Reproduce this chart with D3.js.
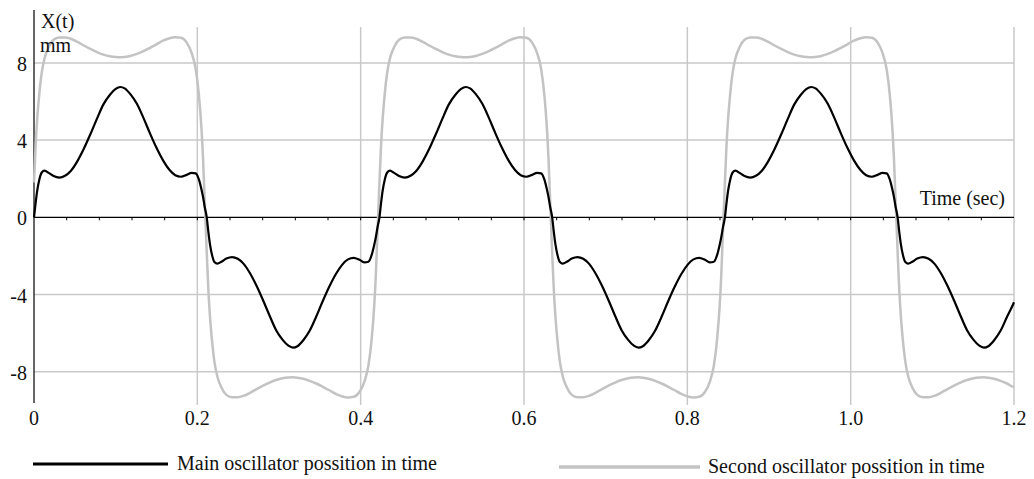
<!DOCTYPE html>
<html>
<head>
<meta charset="utf-8">
<script src="https://cdn.jsdelivr.net/npm/d3@7"></script>
<style>
  html, body { margin: 0; padding: 0; background: #fff; }
  svg { display: block; }
  text { font-family: "Liberation Serif", "Times New Roman", serif; fill: #111; }
</style>
</head>
<body>
<svg id="chart" width="1034" height="479"></svg>
<script>
// ---- data ----
const time = [
  0.0000, 0.0020, 0.0040, 0.0065, 0.0095, 0.0130, 0.0180, 0.0240, 0.0310, 0.0380, 0.0450, 0.0530,
  0.0610, 0.0690, 0.0770, 0.0850, 0.0930, 0.1000, 0.1056, 0.1110, 0.1180, 0.1260, 0.1340, 0.1420,
  0.1500, 0.1580, 0.1660, 0.1730, 0.1800, 0.1870, 0.1930, 0.1980, 0.2020, 0.2050, 0.2070, 0.2090,
  0.2115, 0.2135, 0.2155, 0.2180, 0.2210, 0.2245, 0.2295, 0.2355, 0.2425, 0.2495, 0.2565, 0.2645,
  0.2725, 0.2805, 0.2885, 0.2965, 0.3045, 0.3115, 0.3171, 0.3225, 0.3295, 0.3375, 0.3455, 0.3535,
  0.3615, 0.3695, 0.3775, 0.3845, 0.3915, 0.3985, 0.4045, 0.4095, 0.4135, 0.4165, 0.4185, 0.4205,
  0.4230, 0.4250, 0.4270, 0.4295, 0.4325, 0.4360, 0.4410, 0.4470, 0.4540, 0.4610, 0.4680, 0.4760,
  0.4840, 0.4920, 0.5000, 0.5080, 0.5160, 0.5230, 0.5286, 0.5340, 0.5410, 0.5490, 0.5570, 0.5650,
  0.5730, 0.5810, 0.5890, 0.5960, 0.6030, 0.6100, 0.6160, 0.6210, 0.6250, 0.6280, 0.6300, 0.6320,
  0.6345, 0.6365, 0.6385, 0.6410, 0.6440, 0.6475, 0.6525, 0.6585, 0.6655, 0.6725, 0.6795, 0.6875,
  0.6955, 0.7035, 0.7115, 0.7195, 0.7275, 0.7345, 0.7401, 0.7455, 0.7525, 0.7605, 0.7685, 0.7765,
  0.7845, 0.7925, 0.8005, 0.8075, 0.8145, 0.8215, 0.8275, 0.8325, 0.8365, 0.8395, 0.8415, 0.8435,
  0.8460, 0.8480, 0.8500, 0.8525, 0.8555, 0.8590, 0.8640, 0.8700, 0.8770, 0.8840, 0.8910, 0.8990,
  0.9070, 0.9150, 0.9230, 0.9310, 0.9390, 0.9460, 0.9516, 0.9570, 0.9640, 0.9720, 0.9800, 0.9880,
  0.9960, 1.0040, 1.0120, 1.0190, 1.0260, 1.0330, 1.0390, 1.0440, 1.0480, 1.0510, 1.0530, 1.0550,
  1.0575, 1.0595, 1.0615, 1.0640, 1.0670, 1.0705, 1.0755, 1.0815, 1.0885, 1.0955, 1.1025, 1.1105,
  1.1185, 1.1265, 1.1345, 1.1425, 1.1505, 1.1575, 1.1631, 1.1685, 1.1755, 1.1835, 1.1915, 1.1995,
  1.2000
];

const mainX = [
  0, 0.75, 1.4, 1.95, 2.32, 2.42, 2.3, 2.14, 2.06, 2.15, 2.4, 2.9,
  3.55, 4.3, 5.1, 5.85, 6.35, 6.65, 6.75, 6.68, 6.38, 5.88, 5.15, 4.35,
  3.6, 2.95, 2.45, 2.18, 2.1, 2.2, 2.3, 2.28, 1.95, 1.45, 1.05, 0.55,
  0, -0.75, -1.4, -1.95, -2.32, -2.4, -2.3, -2.14, -2.06, -2.15, -2.4, -2.9,
  -3.55, -4.3, -5.1, -5.85, -6.35, -6.65, -6.75, -6.68, -6.38, -5.88, -5.15, -4.35,
  -3.6, -2.95, -2.45, -2.18, -2.1, -2.2, -2.33, -2.3, -1.95, -1.45, -1.05, -0.55,
  0, 0.75, 1.4, 1.95, 2.32, 2.42, 2.3, 2.14, 2.06, 2.15, 2.4, 2.9,
  3.55, 4.3, 5.1, 5.85, 6.35, 6.65, 6.75, 6.68, 6.38, 5.88, 5.15, 4.35,
  3.6, 2.95, 2.45, 2.18, 2.1, 2.2, 2.3, 2.28, 1.95, 1.45, 1.05, 0.55,
  0, -0.75, -1.4, -1.95, -2.32, -2.4, -2.3, -2.14, -2.06, -2.15, -2.4, -2.9,
  -3.55, -4.3, -5.1, -5.85, -6.35, -6.65, -6.75, -6.68, -6.38, -5.88, -5.15, -4.35,
  -3.6, -2.95, -2.45, -2.18, -2.1, -2.2, -2.33, -2.3, -1.95, -1.45, -1.05, -0.55,
  0, 0.75, 1.4, 1.95, 2.32, 2.42, 2.3, 2.14, 2.06, 2.15, 2.4, 2.9,
  3.55, 4.3, 5.1, 5.85, 6.35, 6.65, 6.75, 6.68, 6.38, 5.88, 5.15, 4.35,
  3.6, 2.95, 2.45, 2.18, 2.1, 2.2, 2.3, 2.28, 1.95, 1.45, 1.05, 0.55,
  0, -0.75, -1.4, -1.95, -2.32, -2.4, -2.3, -2.14, -2.06, -2.15, -2.4, -2.9,
  -3.55, -4.3, -5.1, -5.85, -6.35, -6.65, -6.75, -6.68, -6.38, -5.88, -5.15, -4.45,
  -4.4
];

const secondX = [
  1.8, 3.75, 5.15, 6.4, 7.5, 8.25, 8.82, 9.2, 9.32, 9.32, 9.25, 9.09,
  8.9, 8.72, 8.56, 8.43, 8.34, 8.3, 8.29, 8.31, 8.36, 8.47, 8.61, 8.78,
  8.96, 9.15, 9.28, 9.33, 9.3, 9.05, 8.52, 7.68, 6.3, 4.65, 3.05, 0.85,
  -1.8, -3.75, -5.15, -6.4, -7.5, -8.25, -8.82, -9.2, -9.32, -9.32, -9.25, -9.09,
  -8.9, -8.72, -8.56, -8.43, -8.34, -8.3, -8.29, -8.31, -8.36, -8.47, -8.61, -8.78,
  -8.96, -9.15, -9.28, -9.33, -9.3, -9.05, -8.52, -7.68, -6.3, -4.65, -3.05, -0.85,
  1.8, 3.75, 5.15, 6.4, 7.5, 8.25, 8.82, 9.2, 9.32, 9.32, 9.25, 9.09,
  8.9, 8.72, 8.56, 8.43, 8.34, 8.3, 8.29, 8.31, 8.36, 8.47, 8.61, 8.78,
  8.96, 9.15, 9.28, 9.33, 9.3, 9.05, 8.52, 7.68, 6.3, 4.65, 3.05, 0.85,
  -1.8, -3.75, -5.15, -6.4, -7.5, -8.25, -8.82, -9.2, -9.32, -9.32, -9.25, -9.09,
  -8.9, -8.72, -8.56, -8.43, -8.34, -8.3, -8.29, -8.31, -8.36, -8.47, -8.61, -8.78,
  -8.96, -9.15, -9.28, -9.33, -9.3, -9.05, -8.52, -7.68, -6.3, -4.65, -3.05, -0.85,
  1.8, 3.75, 5.15, 6.4, 7.5, 8.25, 8.82, 9.2, 9.32, 9.32, 9.25, 9.09,
  8.9, 8.72, 8.56, 8.43, 8.34, 8.3, 8.29, 8.31, 8.36, 8.47, 8.61, 8.78,
  8.96, 9.15, 9.28, 9.33, 9.3, 9.05, 8.52, 7.68, 6.3, 4.65, 3.05, 0.85,
  -1.8, -3.75, -5.15, -6.4, -7.5, -8.25, -8.82, -9.2, -9.32, -9.32, -9.25, -9.09,
  -8.9, -8.72, -8.56, -8.43, -8.34, -8.3, -8.29, -8.31, -8.36, -8.47, -8.61, -8.78,
  -8.77
];

const xTicks = [0, 0.2, 0.4, 0.6, 0.8, 1.0, 1.2];
const xTickLabels = ["0", "0.2", "0.4", "0.6", "0.8", "1.0", "1.2"];
const yTicks = [8, 4, 0, -4, -8];
const yTickLabels = ["8", "4", "0", "-4", "-8"];
const seriesNames = ["Main oscillator possition in time", "Second oscillator possition in time"];
const yTitle = ["X(t)", "mm"];
const xTitle = "Time (sec)";

// ---- drawing ----
const svg = d3.select("#chart");
const x = d3.scaleLinear().domain([0, 1.2]).range([34, 1014]);
const y = d3.scaleLinear().domain([-9.62, 10.74]).range([403, 10]);

const gridColor = "#c9c9c9";
const secondColor = "#c3c3c3";

// vertical grid lines
svg.append("g").selectAll("line").data(xTicks.filter(d => d > 0)).join("line")
  .attr("x1", d => x(d)).attr("x2", d => x(d))
  .attr("y1", 27).attr("y2", 405)
  .attr("stroke", gridColor).attr("stroke-width", 1.5);

// horizontal grid lines
svg.append("g").selectAll("line").data(yTicks.filter(d => d !== 0)).join("line")
  .attr("x1", x(0)).attr("x2", x(1.2))
  .attr("y1", d => y(d)).attr("y2", d => y(d))
  .attr("stroke", gridColor).attr("stroke-width", 1.5);

// zero axis
svg.append("line")
  .attr("x1", x(0)).attr("x2", x(1.2)).attr("y1", y(0)).attr("y2", y(0))
  .attr("stroke", "#000").attr("stroke-width", 1.2);
// minor ticks on zero axis
svg.append("g").selectAll("line").data(d3.range(1, 30).map(i => i * 0.04)).join("line")
  .attr("x1", d => x(d)).attr("x2", d => x(d))
  .attr("y1", y(0)).attr("y2", y(0) + 3)
  .attr("stroke", "#000").attr("stroke-width", 1);

// y axis line
svg.append("line")
  .attr("x1", x(0)).attr("x2", x(0)).attr("y1", 10).attr("y2", 403)
  .attr("stroke", "#000").attr("stroke-width", 1.2);

// series
const pts = time.map((t, i) => ({ t, m: mainX[i], s: secondX[i] }));
const lineS = d3.line().x(d => x(d.t)).y(d => y(d.s)).curve(d3.curveMonotoneX);
const lineM = d3.line().x(d => x(d.t)).y(d => y(d.m)).curve(d3.curveMonotoneX);

svg.append("path").datum(pts).attr("d", lineS)
  .attr("fill", "none").attr("stroke", secondColor).attr("stroke-width", 2.5)
  .attr("stroke-linejoin", "round");
svg.append("path").datum(pts).attr("d", lineM)
  .attr("fill", "none").attr("stroke", "#000").attr("stroke-width", 2.2)
  .attr("stroke-linejoin", "round");

// y tick labels
svg.append("g").selectAll("text").data(yTicks).join("text")
  .attr("x", 27).attr("y", d => y(d) + 8)
  .attr("text-anchor", "end").attr("font-size", 20)
  .text((d, i) => yTickLabels[i]);

// x tick labels
svg.append("g").selectAll("text").data(xTicks).join("text")
  .attr("x", d => x(d)).attr("y", 425)
  .attr("text-anchor", "middle").attr("font-size", 20)
  .text((d, i) => xTickLabels[i]);

// axis titles
svg.append("text").attr("x", 41).attr("y", 28).attr("font-size", 20).text(yTitle[0]);
svg.append("text").attr("x", 40).attr("y", 52).attr("font-size", 20).text(yTitle[1]);
svg.append("text").attr("x", 1005).attr("y", 205).attr("text-anchor", "end")
  .attr("font-size", 20).text(xTitle);

// legend
svg.append("line").attr("x1", 33).attr("x2", 168).attr("y1", 464).attr("y2", 464)
  .attr("stroke", "#000").attr("stroke-width", 3);
svg.append("text").attr("x", 177).attr("y", 470).attr("font-size", 20).text(seriesNames[0]);
svg.append("line").attr("x1", 559).attr("x2", 700).attr("y1", 467).attr("y2", 467)
  .attr("stroke", secondColor).attr("stroke-width", 3.5);
svg.append("text").attr("x", 708).attr("y", 473).attr("font-size", 20).text(seriesNames[1]);
</script>
</body>
</html>
